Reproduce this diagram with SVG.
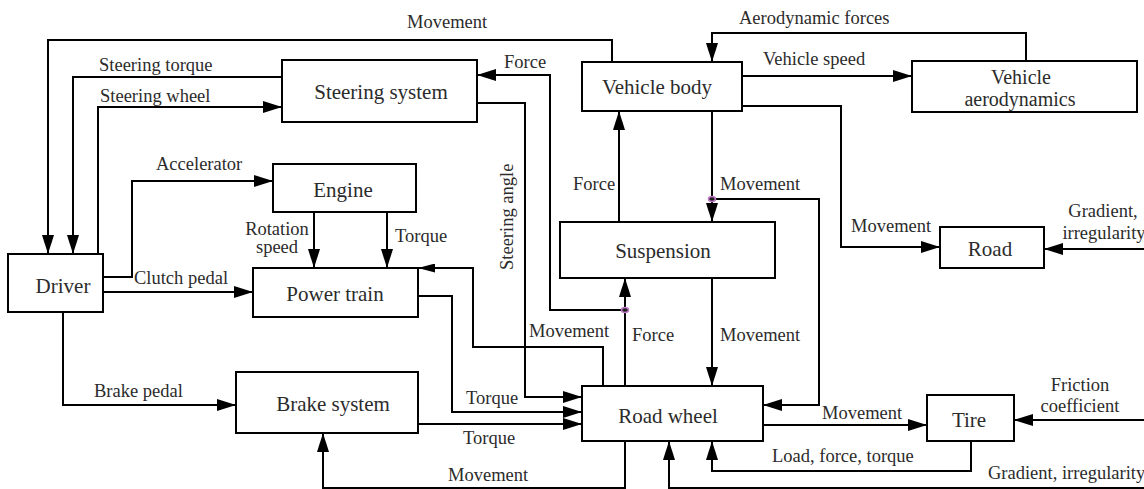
<svg xmlns="http://www.w3.org/2000/svg" width="1144" height="489" viewBox="0 0 1144 489" font-family="Liberation Serif, Times New Roman, serif">
<defs>
<style>
.box{fill:#fff;stroke:#000;stroke-width:2}
.nt{font-size:21px;fill:#2b2b2b;text-anchor:middle}
.et{font-size:18.5px;fill:#2b2b2b}
.em{text-anchor:middle}
.c{fill:none;stroke:#000;stroke-width:2;marker-end:url(#ah)}
.cs{fill:none;stroke:#000;stroke-width:2;marker-end:url(#ahs)}
.j{fill:#222;stroke:#c27bc9;stroke-width:1.5}
</style>
<marker id="ah" markerUnits="userSpaceOnUse" markerWidth="19" markerHeight="12" refX="19" refY="6" orient="auto">
<path d="M0,0 L19,6 L0,12 z" fill="#000"/>
</marker>
<marker id="ahs" markerUnits="userSpaceOnUse" markerWidth="17" markerHeight="9" refX="17" refY="4.5" orient="auto">
<path d="M0,0 L17,4.5 L0,9 z" fill="#000"/>
</marker>
</defs>
<rect width="1144" height="489" fill="#fff"/>
<g id="connectors">
<path class="c" d="M612,62 V40 H48 V254"/>
<path class="c" d="M282,77 H73 V254"/>
<path class="c" d="M98,254 V107 H282"/>
<path class="c" d="M103,277 H132 V181 H273"/>
<path class="c" d="M103,292 H253"/>
<path class="c" d="M314,212 V268"/>
<path class="c" d="M387,212 V268"/>
<path class="c" d="M63,312 V405 H236"/>
<path class="c" d="M625,310 H550 V75 H477"/>
<path class="c" d="M477,103 H525 V397 H582"/>
<path class="c" d="M619,222 V111"/>
<path class="c" d="M712,111 V222"/>
<path class="c" d="M712,199 H819 V405 H763"/>
<path class="c" d="M742,106 H841 V247 H940"/>
<path class="c" d="M742,76 H912"/>
<path class="c" d="M1026,61 V33 H712 V62"/>
<path class="c" d="M1144,249 H1044"/>
<path class="c" d="M712,278 V386"/>
<path class="cs" d="M603,386 V347 H473 V268 H418"/>
<path class="c" d="M418,296 H452 V412 H582"/>
<path class="c" d="M418,424 H582"/>
<path class="c" d="M625,441 V488 H323 V433"/>
<path class="c" d="M763,425 H927"/>
<path class="c" d="M971,441 V471 H712 V441"/>
<path class="c" d="M1144,488 H669 V441"/>
<path class="c" d="M1144,420 H1014"/>
<path class="c" d="M625,386 V278"/>
<ellipse class="j" cx="625" cy="310" rx="3.5" ry="2.5"/>
<ellipse class="j" cx="712" cy="199" rx="3.5" ry="2.5"/>
<text class="et" x="407" y="28">Movement</text>
<text class="et" x="99" y="71">Steering torque</text>
<text class="et" x="100" y="102">Steering wheel</text>
<text class="et" x="504" y="68">Force</text>
<text class="et" x="739" y="24">Aerodynamic forces</text>
<text class="et" x="763" y="65">Vehicle speed</text>
<text class="et" x="156" y="170">Accelerator</text>
<text class="et" x="134" y="284">Clutch pedal</text>
<text class="et em" x="277" y="235">Rotation</text>
<text class="et em" x="277" y="253">speed</text>
<text class="et" x="395" y="242">Torque</text>
<text class="et" transform="translate(513,270) rotate(-90)">Steering angle</text>
<text class="et" x="573" y="190">Force</text>
<text class="et" x="720" y="190">Movement</text>
<text class="et" x="851" y="232">Movement</text>
<text class="et em" x="1103" y="217">Gradient,</text>
<text class="et em" x="1104" y="239">irregularity</text>
<text class="et" x="529" y="337">Movement</text>
<text class="et" x="632" y="341">Force</text>
<text class="et" x="720" y="341">Movement</text>
<text class="et" x="466" y="404">Torque</text>
<text class="et" x="463" y="444">Torque</text>
<text class="et" x="448" y="481">Movement</text>
<text class="et" x="94" y="397">Brake pedal</text>
<text class="et" x="822" y="419">Movement</text>
<text class="et" x="772" y="462">Load, force, torque</text>
<text class="et" x="988" y="479">Gradient, irregularity</text>
<text class="et em" x="1080" y="391">Friction</text>
<text class="et em" x="1080" y="412">coefficient</text>
</g>
<g id="steering-system"><rect class="box" x="282" y="60" width="195" height="62"/><text class="nt" x="381" y="99">Steering system</text></g>
<g id="vehicle-body"><rect class="box" x="582" y="62" width="160" height="49"/><text class="nt" x="657" y="94">Vehicle body</text></g>
<g id="vehicle-aerodynamics"><rect class="box" x="912" y="61" width="225" height="51"/><text class="nt" x="1021" y="84" style="font-size:20px">Vehicle</text><text class="nt" x="1020" y="106" style="font-size:20px">aerodynamics</text></g>
<g id="engine"><rect class="box" x="273" y="164" width="143" height="48"/><text class="nt" x="343" y="197">Engine</text></g>
<g id="driver"><rect class="box" x="8" y="254" width="95" height="58"/><text class="nt" x="63" y="293">Driver</text></g>
<g id="power-train"><rect class="box" x="253" y="268" width="165" height="49"/><text class="nt" x="335" y="301">Power train</text></g>
<g id="suspension"><rect class="box" x="560" y="222" width="215" height="56"/><text class="nt" x="663" y="258">Suspension</text></g>
<g id="road"><rect class="box" x="940" y="227" width="104" height="41"/><text class="nt" x="990" y="256">Road</text></g>
<g id="brake-system"><rect class="box" x="236" y="372" width="182" height="61"/><text class="nt" x="333" y="411">Brake system</text></g>
<g id="road-wheel"><rect class="box" x="582" y="386" width="181" height="55"/><text class="nt" x="668" y="423">Road wheel</text></g>
<g id="tire"><rect class="box" x="927" y="395" width="87" height="46"/><text class="nt" x="969" y="427">Tire</text></g>
</svg>
